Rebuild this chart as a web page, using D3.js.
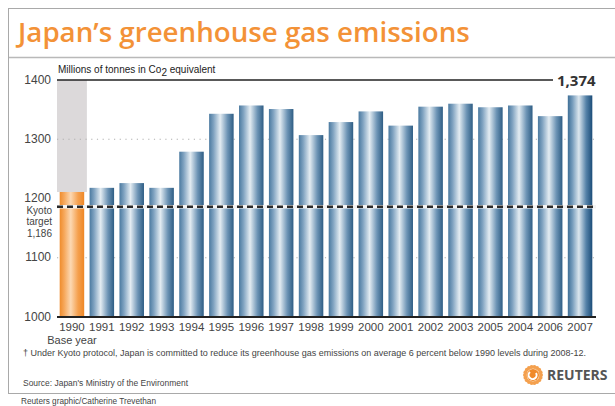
<!DOCTYPE html>
<html>
<head>
<meta charset="utf-8">
<script src="https://cdn.jsdelivr.net/npm/d3@7"></script>
<style>
  body { margin: 0; background: #fff; }
  svg { display: block; font-family: "Liberation Sans", Arial, sans-serif; }
</style>
</head>
<body>
<svg></svg>
<script>
const years = ["1990", "1991", "1992", "1993", "1994", "1995", "1996", "1997", "1998",
  "1999", "2000", "2001", "2002", "2003", "2005", "2004", "2006", "2007"];
const emissions = [1211, 1218, 1226, 1218, 1279, 1343, 1357, 1351, 1307,
  1329, 1347, 1323, 1355, 1360, 1354, 1357, 1339, 1374];
const y_ticks = [1000, 1100, 1200, 1300, 1400];
const kyoto_target = 1186;
const kyoto_lines = ["Kyoto", "target", "1,186"];
const last_label = "1,374";

const width = 615, height = 406;
const svg = d3.select("svg").attr("width", width).attr("height", height);

const defs = svg.append("defs");
function barGradient(id, stops) {
  const g = defs.append("linearGradient").attr("id", id)
    .attr("x1", "0%").attr("x2", "100%").attr("y1", "0%").attr("y2", "0%");
  stops.forEach(s => g.append("stop").attr("offset", s[0]).attr("stop-color", s[1]));
}
barGradient("blue", [["0%", "#4b7aa0"], ["18%", "#7fa2c0"], ["45%", "#e3ecf2"], ["75%", "#6d94b5"], ["100%", "#2e5d84"]]);
barGradient("blueDark", [["0%", "#3f6f96"], ["18%", "#7299ba"], ["45%", "#dbe6ee"], ["75%", "#5582a8"], ["100%", "#1b4c78"]]);
barGradient("orange", [["0%", "#ef8c2c"], ["18%", "#f6a75a"], ["45%", "#fcd8b2"], ["75%", "#f5a04e"], ["100%", "#ee8726"]]);

// frame
svg.append("rect").attr("x", 8.5).attr("y", 8.5).attr("width", 640).attr("height", 385)
  .attr("fill", "none").attr("stroke", "#a9a9a9");
svg.append("line").attr("x1", 9).attr("x2", 615).attr("y1", 57.5).attr("y2", 57.5)
  .attr("stroke", "#b9b9b9").attr("stroke-width", 1.5);

function fitText(sel, w) {
  const len = sel.node().getComputedTextLength();
  const fs = parseFloat(sel.style("font-size"));
  sel.style("font-size", (fs * w / len) + "px");
}

const title = svg.append("text")
  .attr("x", 18).attr("y", 42)
  .style("font-family", "'Open Sans', sans-serif")
  .style("font-weight", 600)
  .style("font-size", "26px")
  .attr("fill", "#f39237")
  .text("Japan\u2019s greenhouse gas emissions");
fitText(title, 452);

const x_scale = d3.scaleBand().domain(years).range([57, 595]).paddingInner(0.18).paddingOuter(0.09);
const y_scale = d3.scaleLinear().domain([1000, 1400]).range([317, 80]);

// base year shading
svg.append("rect")
  .attr("x", 57).attr("width", x_scale.step())
  .attr("y", y_scale(1400)).attr("height", y_scale(emissions[0]) - y_scale(1400))
  .attr("fill", "#dcd9da");

// dotted grid
svg.append("g").selectAll("line").data([1100, 1300]).join("line")
  .attr("x1", 57).attr("x2", 595)
  .attr("y1", d => y_scale(d)).attr("y2", d => y_scale(d))
  .attr("stroke", "#b0b0b0").attr("stroke-width", 1.2).attr("stroke-dasharray", "1.2,4.5");

// bars
svg.append("g").selectAll("rect").data(years).join("rect")
  .attr("x", d => x_scale(d))
  .attr("width", x_scale.bandwidth())
  .attr("y", (d, i) => y_scale(emissions[i]))
  .attr("height", (d, i) => y_scale(1000) - y_scale(emissions[i]))
  .attr("fill", (d, i) => i === 0 ? "url(#orange)" : (i === years.length - 1 ? "url(#blueDark)" : "url(#blue)"));

// top line at 1400
svg.append("line").attr("x1", 57).attr("x2", 553)
  .attr("y1", y_scale(1400)).attr("y2", y_scale(1400))
  .attr("stroke", "#222").attr("stroke-width", 1.6);
svg.append("text").attr("x", 557).attr("y", y_scale(1400) + 6)
  .style("font-family", "'Open Sans', sans-serif")
  .style("font-weight", 700).style("font-size", "15px")
  .attr("fill", "#333").text(last_label);

// units label
const units = svg.append("text").attr("x", 58).attr("y", 73)
  .style("font-size", "10px").attr("fill", "#222");
units.append("tspan").text("Millions of tonnes in Co");
units.append("tspan").attr("dy", 3).style("font-size", "10px").text("2");
units.append("tspan").attr("dy", -3).text(" equivalent");

// kyoto dashed line
svg.append("line").attr("x1", 57).attr("x2", 596)
  .attr("y1", y_scale(kyoto_target)).attr("y2", y_scale(kyoto_target))
  .attr("stroke", "#f4f4f4").attr("stroke-width", 3.5);
svg.append("line").attr("x1", 57).attr("x2", 596)
  .attr("y1", y_scale(kyoto_target)).attr("y2", y_scale(kyoto_target))
  .attr("stroke", "#2a2a2a").attr("stroke-width", 2.6).attr("stroke-dasharray", "6,4");

// baseline
svg.append("line").attr("x1", 57).attr("x2", 596)
  .attr("y1", y_scale(1000)).attr("y2", y_scale(1000))
  .attr("stroke", "#222").attr("stroke-width", 2);

// y labels
svg.append("g").selectAll("text").data(y_ticks).join("text")
  .attr("x", 51).attr("y", d => y_scale(d) + 3.5)
  .attr("text-anchor", "end")
  .style("font-size", "12px").attr("fill", "#444")
  .text(d => d);

svg.append("g").selectAll("text").data(kyoto_lines).join("text")
  .attr("x", 52).attr("y", (d, i) => 213.5 + i * 11.5)
  .attr("text-anchor", "end")
  .style("font-size", "10px").attr("fill", "#444")
  .text(d => d);

// x labels
svg.append("g").selectAll("text").data(years).join("text")
  .attr("x", d => x_scale(d) + x_scale.bandwidth() / 2)
  .attr("y", 331)
  .attr("text-anchor", "middle")
  .style("font-size", "11.5px").attr("fill", "#444")
  .text(d => d);
svg.append("text").attr("x", x_scale(years[0]) + x_scale.bandwidth() / 2).attr("y", 344)
  .attr("text-anchor", "middle").style("font-size", "11px").attr("fill", "#444")
  .text("Base year");

const note = svg.append("text").attr("x", 23).attr("y", 356)
  .style("font-size", "9px").attr("fill", "#444")
  .text("\u2020 Under Kyoto protocol, Japan is committed to reduce its greenhouse gas emissions on average 6 percent below 1990 levels during 2008-12.");
note.attr("textLength", 563).attr("lengthAdjust", "spacingAndGlyphs");

svg.append("text").attr("x", 23).attr("y", 386)
  .style("font-size", "8.5px").attr("fill", "#444")
  .attr("textLength", 165).attr("lengthAdjust", "spacingAndGlyphs")
  .text("Source: Japan's Ministry of the Environment");

svg.append("text").attr("x", 21).attr("y", 404)
  .style("font-size", "8.5px").attr("fill", "#444")
  .attr("textLength", 135).attr("lengthAdjust", "spacingAndGlyphs")
  .text("Reuters graphic/Catherine Trevethan");

// Reuters logo
const logo = svg.append("g").attr("transform", "translate(533,375)");
d3.range(0, 360, 20).forEach(a => {
  const r = a * Math.PI / 180;
  logo.append("circle").attr("cx", 8 * Math.cos(r)).attr("cy", 8 * Math.sin(r))
    .attr("r", 2).attr("fill", "#f4a04e");
});
logo.append("circle").attr("r", 6).attr("fill", "#f08a2a");
logo.append("path").attr("d", "M-3,-3 A4,4 0 1,0 3,-2").attr("fill", "none")
  .attr("stroke", "#fff").attr("stroke-width", 2);
svg.append("text").attr("x", 547).attr("y", 380)
  .style("font-family", "'Open Sans', sans-serif")
  .style("font-weight", 700).style("font-size", "14px").attr("fill", "#555")
  .text("REUTERS");
</script>
</body>
</html>
